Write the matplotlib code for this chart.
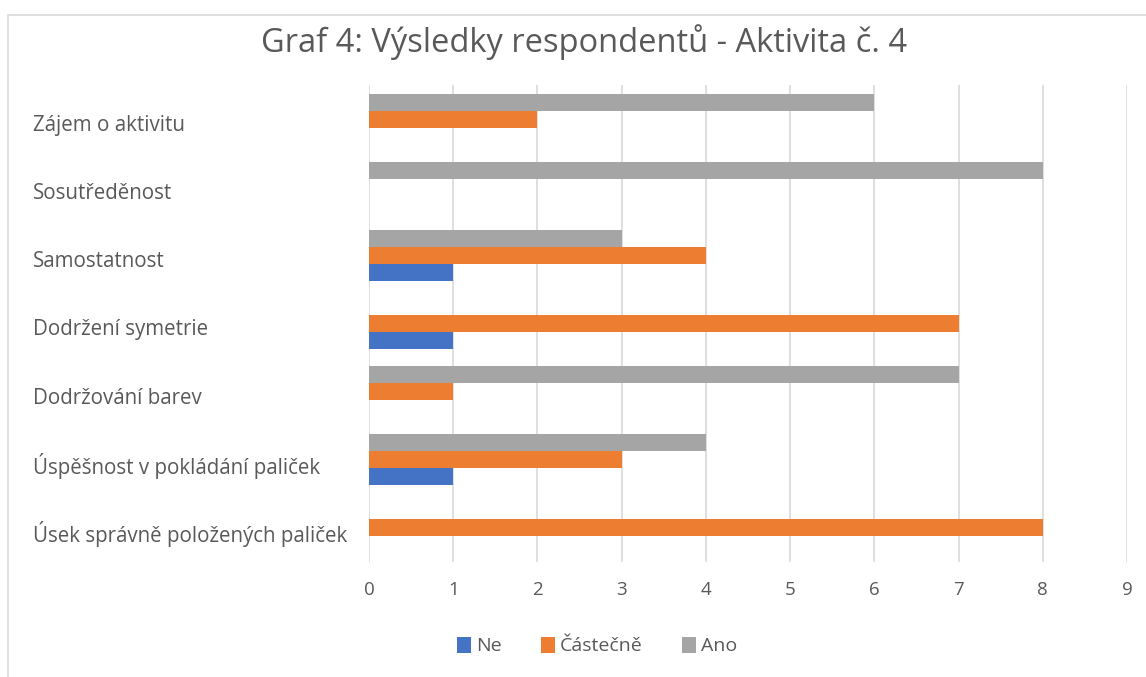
import matplotlib.pyplot as plt
import matplotlib.transforms as mtransforms
import numpy as np
from matplotlib.patches import Rectangle

# Data (bottom to top, as drawn on the y axis)
categories = [
    "Úsek správně položených paliček",
    "Úspěšnost v pokládání paliček",
    "Dodržování barev",
    "Dodržení symetrie",
    "Samostatnost",
    "Sosutředěnost",
    "Zájem o aktivitu",
]
ne = [0, 1, 0, 1, 1, 0, 0]
castecne = [8, 3, 1, 7, 4, 0, 2]
ano = [0, 4, 7, 0, 3, 8, 6]

series_names = ["Ne", "Částečně", "Ano"]
colors = ["#4472C4", "#ED7D31", "#A5A5A5"]
text_color = "#595959"

plt.rcParams['font.family'] = ['Open Sans', 'DejaVu Sans']

fig = plt.figure(figsize=(11.46, 6.77), dpi=100)
ax = fig.add_axes([369 / 1146, 1 - 562 / 677, (1127 - 369) / 1146, (562 - 85) / 677])

# light frame around the whole chart
fig.patches.append(Rectangle((8 / 1146, -0.1), 1.2, 1.1 - 15 / 677,
                             transform=fig.transFigure, fill=False,
                             edgecolor="#D9D9D9", linewidth=1.2))

y = np.arange(len(categories))
h = 0.25
ax.barh(y - h, ne, height=h, color=colors[0], label=series_names[0])
ax.barh(y, castecne, height=h, color=colors[1], label=series_names[1])
ax.barh(y + h, ano, height=h, color=colors[2], label=series_names[2])

ax.set_xlim(0, 9)
ax.set_ylim(-0.5, 6.5)
ax.set_xticks(range(0, 10))
ax.set_yticks(y)
ax.set_yticklabels(categories)
ax.tick_params(axis='both', length=0, colors=text_color)
ax.tick_params(axis='x', pad=14, labelsize=13.5)
ax.tick_params(axis='y', pad=0, labelsize=14.8)
# category labels start at the left edge and sit slightly below the group centre
shift = mtransforms.ScaledTranslation(0, -4 / 100, fig.dpi_scale_trans)
for lbl in ax.get_yticklabels():
    lbl.set_horizontalalignment('left')
    lbl.set_x(-(369 - 33) / (1127 - 369))
    lbl.set_transform(lbl.get_transform() + shift)

ax.grid(axis='x', color="#D9D9D9", linewidth=1.2)
ax.set_axisbelow(True)
for s in ax.spines.values():
    s.set_visible(False)

fig.text(584 / 1146, 1 - 42 / 677, "Graf 4: Výsledky respondentů - Aktivita č. 4",
         ha='center', va='center', fontsize=23.5, color=text_color)

fig.legend(loc='center', bbox_to_anchor=(597 / 1146, 1 - 646 / 677), ncol=3,
           frameon=False, fontsize=14, handlelength=0.75, handleheight=0.9,
           handletextpad=0.25, columnspacing=2.0, labelcolor=text_color)

fig.savefig("out.png", dpi=100)
